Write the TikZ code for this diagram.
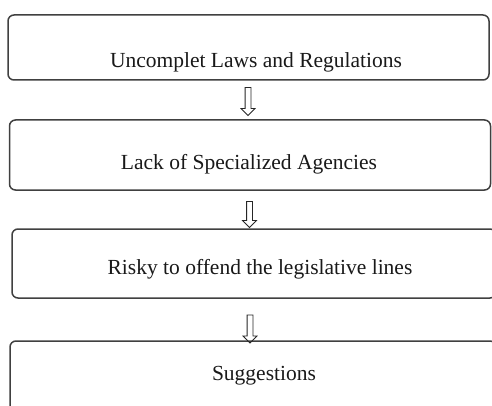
\documentclass[tikz,border=0pt]{standalone}
\usepackage{fontspec}
\setmainfont{Liberation Serif}
\usetikzlibrary{shapes.arrows}
\begin{document}
\begin{tikzpicture}[x=1pt,y=-1pt,
  box/.style={draw=black!75, line width=1.5pt, rounded corners=6pt, rectangle, inner sep=0pt},
  lbl/.style={anchor=base, inner sep=0pt, font=\fontsize{21.5}{24}\selectfont, text=black!90},
  harrow/.style={single arrow, draw=black!85, line width=0.8pt, shape border rotate=270,
    inner sep=0pt, minimum width=13pt, minimum height=28pt, single arrow head extend=4pt,
    text width=5pt, text height=0pt, text depth=0pt}]
\useasboundingbox (0,0) rectangle (492,406);
\clip (0,0) rectangle (492,406);
\fill[white] (0,0) rectangle (492,406);
\node[box, minimum width=481pt, minimum height=65pt] (b1) at (248.5,47.5) {};
\node[box, minimum width=481pt, minimum height=70pt] (b2) at (250,155) {};
\node[box, minimum width=484pt, minimum height=69pt] (b3) at (254,263.5) {};
\node[box, minimum width=486pt, minimum height=80pt] (b4) at (253,381) {};
\node[lbl] (t1) at (256,68) {Uncomplet Laws and Regulations};
\node[lbl] (t2) at (249,170) {Lack of Specialized Agencies};
\node[lbl] (t3) at (260,274) {Risky to offend the legislative lines};
\node[lbl] (t4) at (264,380) {Suggestions};
\node[harrow] (a1) at (248,100) {};
\node[harrow, minimum height=26pt] (a2) at (249.5,213) {};
\node[harrow] (a3) at (250,327.5) {};
\end{tikzpicture}
\end{document}
